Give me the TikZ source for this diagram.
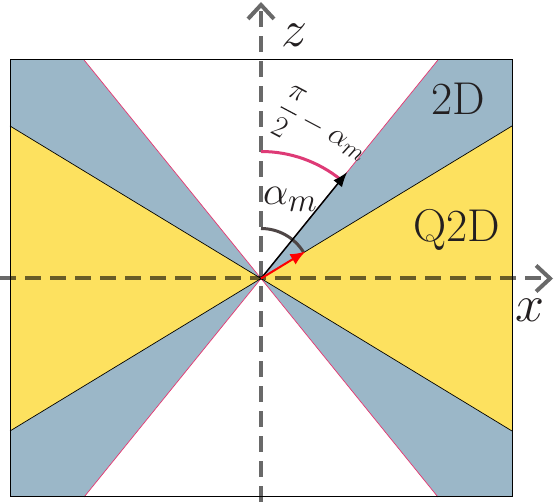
\documentclass[tikz,border=0pt]{standalone}
\usepackage{amsmath}
\usepackage{graphicx}
\usetikzlibrary{arrows.meta,calc}
\definecolor{bluereg}{RGB}{155,183,200}
\definecolor{yellowreg}{RGB}{253,225,95}
\definecolor{pinkline}{RGB}{226,52,110}
\definecolor{pinkarc}{RGB}{222,58,118}
\definecolor{grayarc}{RGB}{78,70,70}
\definecolor{axisgray}{RGB}{105,105,105}
\definecolor{txt}{RGB}{35,31,32}
\tikzset{
  axisline/.style={draw=axisgray, line width=4pt, dash pattern=on 16pt off 9pt, blend mode=multiply,
    -{Straight Barb[length=14pt,width=26pt,line width=4pt]}},
  boundpink/.style={draw=pinkline, line width=0.7pt},
  boundblack/.style={draw=black, line width=0.7pt},
  bigtxt/.style={text=txt, font=\fontsize{46}{50}\selectfont, inner sep=0pt},
  mathlbl/.style={text=txt, inner sep=0pt, font=\Huge},
}
\begin{document}
\begin{tikzpicture}[x=1pt,y=1pt]
\useasboundingbox (0,0) rectangle (556,502);
\coordinate (C) at (261,223.5);
% box corners
\coordinate (BL) at (10,5);
\coordinate (TR) at (512,442);
% pink boundary ends
\coordinate (PTL) at (84.1,442);
\coordinate (PTR) at (437.9,442);
\coordinate (PBL) at (84.1,5);
\coordinate (PBR) at (437.9,5);
% yellow boundary ends
\coordinate (YLT) at (10,376);
\coordinate (YLB) at (10,71);
\coordinate (YRT) at (512,376);
\coordinate (YRB) at (512,71);
% regions
\fill[bluereg] (BL) rectangle (TR);
\fill[white] (PTL) -- (C) -- (PTR) -- cycle;
\fill[white] (PBL) -- (C) -- (PBR) -- cycle;
\fill[yellowreg] (YLT) -- (C) -- (YLB) -- cycle;
\fill[yellowreg] (YRT) -- (C) -- (YRB) -- cycle;
\draw[boundpink] (PTL) -- (PBR);
\draw[boundpink] (PTR) -- (PBL);
\draw[boundblack] (YLT) -- (YRB);
\draw[boundblack] (YRT) -- (YLB);
\draw[black, line width=1pt] (BL) rectangle (TR);
% axes
\coordinate (zs) at (261,0);
\coordinate (ze) at (261,500);
\coordinate (xs) at (0,223.5);
\coordinate (xe) at (553,223.5);
\draw[axisline] (zs) -- (ze);
\draw[axisline] (xs) -- (xe);
\node[mathlbl, anchor=base west] (zl) at (281,455) {\scalebox{2.09}{$z$}};
\node[mathlbl, anchor=base west] (xl) at (515,180) {\scalebox{2.09}{$x$}};
% arcs
\draw[grayarc, line width=3pt] (C) ++(90:50) arc[start angle=90, end angle=31.3, radius=50];
\draw[pinkarc, line width=3pt] (C) ++(90:127) arc[start angle=90, end angle=51, radius=127];
% arrows
\coordinate (tipB) at ($(C)+(51:137)$);
\coordinate (tipR) at ($(C)+(31.3:52)$);
\draw[black, line width=1.5pt, -{Latex[length=15pt,width=11pt]}] (C) -- (tipB);
\draw[red, line width=2pt, -{Latex[length=15pt,width=12pt]}] (C) -- (tipR);
% labels
\node[mathlbl, anchor=base west] (al) at (263,297) {\scalebox{1.61}{$\alpha_m$}};
\node[mathlbl, rotate=-28] (fl) at (322,372) {\scalebox{1.2}{$\dfrac{\pi}{2}-\alpha_m$}};
\node[bigtxt, anchor=base] (l2d) at (458,387) {2D};
\node[bigtxt, anchor=base] (lq2d) at (457,260) {Q2D};
\end{tikzpicture}
\end{document}
